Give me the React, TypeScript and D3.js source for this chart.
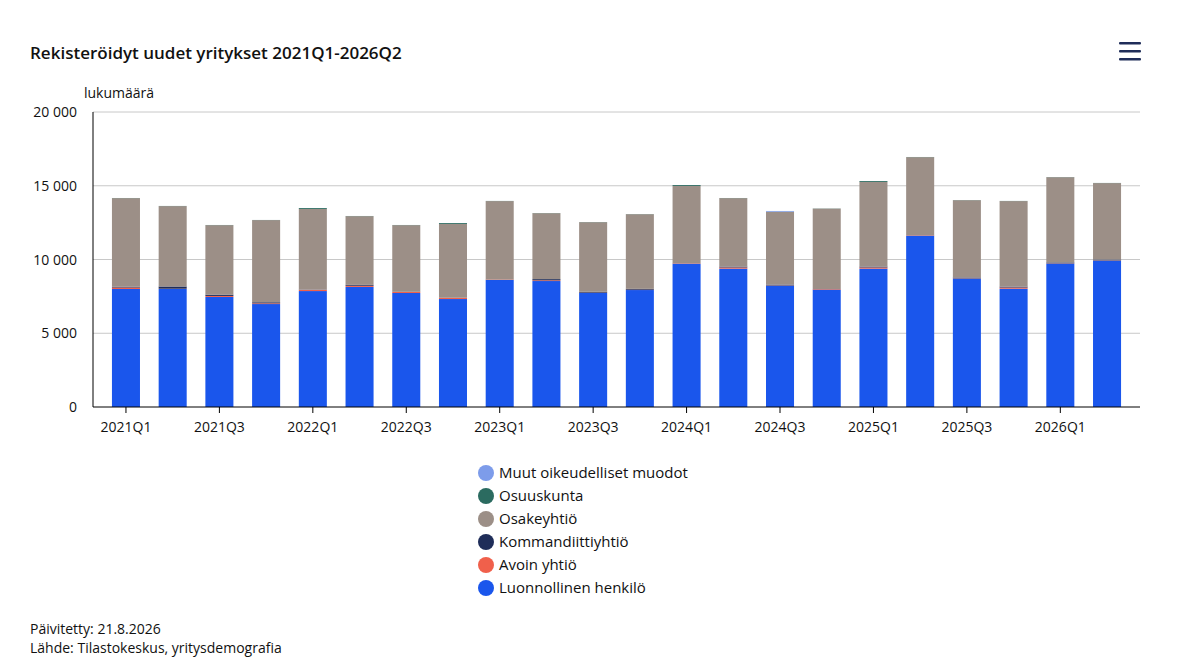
import React from "react";
import * as d3 from "d3";

const quarters = ["2021Q1","2021Q2","2021Q3","2021Q4","2022Q1","2022Q2","2022Q3","2022Q4","2023Q1","2023Q2","2023Q3","2023Q4","2024Q1","2024Q2","2024Q3","2024Q4","2025Q1","2025Q2","2025Q3","2025Q4","2026Q1","2026Q2"];
const luonnollinen = [8000,8000,7460,6980,7860,8140,7730,7320,8610,8540,7730,7930,9710,9380,8220,7950,9380,11610,8700,8020,9720,9920];
const avoin = [100,20,70,50,80,80,70,80,30,50,20,20,30,80,20,40,80,30,20,80,20,20];
const kommandiitti = [50,150,80,70,20,60,10,10,10,80,60,60,10,60,60,10,60,10,60,60,60,60];
const totals = [14170,13630,12340,12680,13490,12950,12340,12470,13970,13150,12540,13080,15050,14170,13290,13460,15320,16950,14030,13970,15590,15190];
const osuuskunta = [10,10,10,10,60,10,10,60,10,10,10,10,60,10,10,10,60,10,10,10,10,10];
const muut = [0,0,0,0,0,0,0,0,0,0,0,0,0,0,50,0,0,0,0,0,0,0];
const osakeyhtio = totals.map((t, i) => t - luonnollinen[i] - avoin[i] - kommandiitti[i] - osuuskunta[i] - muut[i]);

const seriesNames = ["Luonnollinen henkilö","Avoin yhtiö","Kommandiittiyhtiö","Osakeyhtiö","Osuuskunta","Muut oikeudelliset muodot"];
const seriesValues = [luonnollinen, avoin, kommandiitti, osakeyhtio, osuuskunta, muut];
const colors = ["#1a56ec","#f0604b","#1f2d59","#9c8f87","#2b6b60","#7d9cea"];
const yTicks = [0,5000,10000,15000,20000];

export default function App() {
  const W = 1179, H = 662;
  const m = { l: 93, r: 1140, t: 112, b: 407 };
  const x = d3.scaleBand().domain(quarters).range([102.6, 1130.4]).paddingInner(0.4).paddingOuter(0.2);
  const y = d3.scaleLinear().domain([0, 20000]).range([m.b, m.t]);
  const rows = quarters.map((q, i) => {
    const o: any = { q };
    seriesNames.forEach((s, j) => (o[s] = seriesValues[j][i]));
    return o;
  });
  const stacked = d3.stack().keys(seriesNames)(rows);
  const fmt = (v: number) => (v === 0 ? "0" : d3.format(",")(v).replace(/,/g, " "));
  const font = "'Open Sans', sans-serif";
  return (
    <svg width={W} height={H} style={{ position: "absolute", left: 0, top: 0, fontFamily: font }}>
      <rect width={W} height={H} fill="#fff" />
      <text x={30} y={59} fontSize={17} fontWeight={600} fill="#111">Rekisteröidyt uudet yritykset 2021Q1-2026Q2</text>
      {[0, 1, 2].map((k) => (
        <rect key={k} x={1119} y={42 + k * 8} width={22} height={2.6} rx={1} fill="#1f2d59" />
      ))}
      <text x={84} y={98} fontSize={14} fill="#111">lukumäärä</text>
      {yTicks.map((t) => (
        <g key={t}>
          {t > 0 && <line x1={m.l} x2={m.r} y1={y(t)} y2={y(t)} stroke="#c8c8c8" strokeWidth={1} />}
          <text x={77} y={y(t) + 5} fontSize={14} textAnchor="end" fill="#111">{fmt(t)}</text>
        </g>
      ))}
      {stacked.map((s, j) => (
        <g key={s.key} fill={colors[j]}>
          {s.map((d, i) => (
            <rect key={i} x={x(quarters[i])} width={x.bandwidth()} y={y(d[1])} height={Math.max(0, y(d[0]) - y(d[1]))} />
          ))}
        </g>
      ))}
      <line x1={m.l} x2={m.l} y1={m.t} y2={m.b} stroke="#000" />
      <line x1={m.l} x2={m.r} y1={m.b} y2={m.b} stroke="#000" />
      {quarters.map((q, i) => i % 2 === 0 && (
        <g key={q}>
          <line x1={x(q)! + x.bandwidth() / 2} x2={x(q)! + x.bandwidth() / 2} y1={m.b} y2={m.b + 6} stroke="#000" />
          <text x={x(q)! + x.bandwidth() / 2} y={m.b + 25} fontSize={14} textAnchor="middle" fill="#111">{q}</text>
        </g>
      ))}
      {seriesNames.slice().reverse().map((s, k) => (
        <g key={s} transform={`translate(486, ${473 + k * 23})`}>
          <circle r={8} fill={colors[seriesNames.length - 1 - k]} />
          <text x={13} y={5} fontSize={15} fill="#111">{s}</text>
        </g>
      ))}
      <text x={30} y={634} fontSize={14} fill="#111">Päivitetty: 21.8.2026</text>
      <text x={30} y={653} fontSize={14} fill="#111">Lähde: Tilastokeskus, yritysdemografia</text>
    </svg>
  );
}
